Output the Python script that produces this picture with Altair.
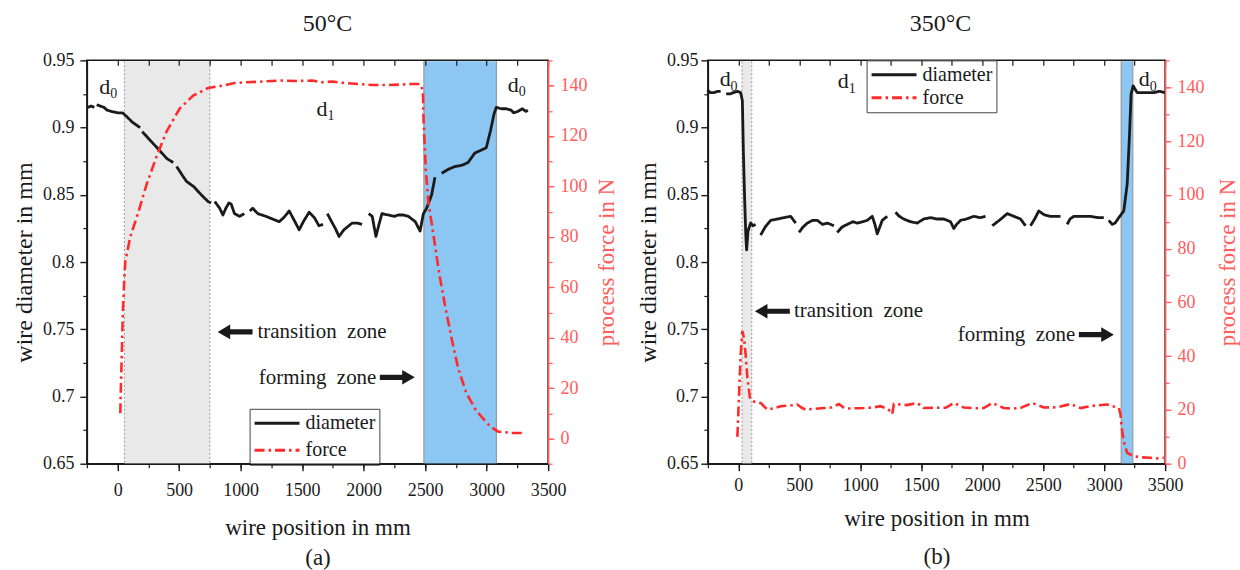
import altair as alt
import pandas as pd

FONT = "Liberation Serif"
INK = "#1a1a1a"
RED_LINE = "#ff2b2b"
RED_AXIS = "#ff5c5c"
ZONE_GRAY = "#e9e9e9"
ZONE_BLUE = "#8cc6f3"
EDGE_GRAY = "#9a9a9a"

SERIES = ["diameter", "force"]
X_DOMAIN = [-250, 3500]
D_DOMAIN = [0.65, 0.95]
X_MAJOR = [0, 500, 1000, 1500, 2000, 2500, 3000, 3500]
X_ALL = list(range(-250, 3501, 250))
D_MAJOR = [0.65, 0.7, 0.75, 0.8, 0.85, 0.9, 0.95]
D_MINOR = [0.675, 0.725, 0.775, 0.825, 0.875, 0.925]
F_MAJOR = [0, 20, 40, 60, 80, 100, 120, 140]

# ---------------- panel (a): 50 °C ----------------
A_DIAM_X = [-245, -215, -190, -170, -140, -110, -86, -50, 0, 40, 76, 120, 183,
            200, 260, 331, 400, 452,
            480, 530, 560, 620, 680, 735, 760,
            790, 830, 856, 880, 905, 924, 950, 991, 1030,
            1075, 1098, 1140, 1206, 1260, 1314, 1350, 1395, 1430, 1476, 1510, 1557, 1600, 1637, 1670,
            1705, 1740, 1770, 1800, 1840, 1880, 1907, 1950, 1987,
            2041, 2070, 2100, 2125, 2149, 2200, 2250, 2283, 2320, 2364, 2420, 2459, 2486, 2512, 2553, 2580,
            2634, 2690, 2741, 2800, 2849, 2880, 2903, 2950, 2997, 3030, 3060, 3078, 3120, 3160, 3199,
            3220, 3253, 3290, 3320, 3335]
A_DIAM_Y = [0.915, 0.916, 0.915, 0.917, 0.916, 0.915, 0.913, 0.912, 0.911, 0.911, 0.908, 0.904, 0.900,
            0.897, 0.891, 0.884, 0.877, 0.874,
            0.871, 0.864, 0.860, 0.856, 0.850, 0.845, 0.844,
            0.845, 0.840, 0.835, 0.840, 0.844, 0.843, 0.836, 0.834, 0.836,
            0.838, 0.840, 0.836, 0.834, 0.832, 0.830, 0.833, 0.838, 0.832, 0.824, 0.830, 0.837, 0.833, 0.827, 0.828,
            0.836, 0.830, 0.825, 0.819, 0.824, 0.827, 0.829, 0.829, 0.828,
            0.836, 0.834, 0.819, 0.828, 0.836, 0.835, 0.834, 0.835, 0.835, 0.834, 0.830, 0.823, 0.836, 0.840, 0.850, 0.863,
            0.866, 0.869, 0.871, 0.872, 0.874, 0.878, 0.881, 0.883, 0.885, 0.897, 0.910, 0.915, 0.914, 0.914, 0.913,
            0.911, 0.912, 0.914, 0.912, 0.913]
A_DIAM_GAPS = [-180, 190, 466, 775, 1052, 1688, 2015, 2607]
A_FORCE_X = [22, 27, 35, 43, 57, 62, 103, 170, 237, 318, 400, 506, 614, 735, 856, 950, 1046, 1150, 1314,
             1450, 1583, 1650, 1745, 1850, 1961, 2080, 2177, 2300, 2392, 2459, 2482, 2487, 2505, 2526, 2567,
             2607, 2620, 2661, 2714, 2768, 2835, 2916, 3024, 3091, 3199, 3293, 3315]
A_FORCE_Y = [10, 21, 35, 51, 66, 70, 80, 90, 101, 112, 122, 131, 136, 139, 140, 141, 141.3, 141.5, 142,
             141.8, 142, 141.3, 141.6, 141, 140.6, 140.2, 140.2, 140.4, 140.6, 140.6, 138, 127, 107, 94, 81,
             68, 64, 53, 40, 28, 18, 11, 5, 2.8, 2.2, 2.2, 2.3]
A_GRAY_ZONE = [55, 750]
A_BLUE_ZONE = [2490, 3080]
A_D_X = [-105, 1661, 3216]
A_D_Y = [0.925, 0.9085, 0.9266]
A_SUB_TEXT = ["0", "1", "0"]
A_SUB_X = [-31, 1734, 3289]
A_SUB_Y = [0.9218, 0.9055, 0.9234]
A_NOTE_TEXT = ["transition\u00a0\u00a0zone", "forming\u00a0\u00a0zone"]
A_NOTE_X = [1137, 2104]
A_NOTE_Y = [0.748, 0.7136]
A_NOTE_ALIGN = ["left", "right"]
A_ARROW_X = [955, 2274]
A_ARROW_Y = [0.748, 0.7143]

# ---------------- panel (b): 350 °C ----------------
B_DIAM_X = [-254, -230, -200, -170, -145,
            -100, -70, -40, -8, 19, 33, 41, 52, 62, 68, 79, 101, 120, 142,
            183, 220, 265, 320, 374, 429, 470,
            497, 530, 566, 610, 648, 690, 730, 784,
            811, 850, 893, 940, 975, 1020, 1057, 1098, 1120, 1139, 1160, 1180, 1221,
            1289, 1320, 1357, 1410, 1467, 1520, 1576, 1630, 1685, 1740, 1767, 1790, 1822, 1870, 1931, 1980, 2027,
            2082, 2140, 2205, 2260, 2314, 2355,
            2396, 2430, 2464, 2510, 2560, 2600, 2642,
            2697, 2720, 2751, 2820, 2888, 2950, 2997,
            3038, 3066, 3090, 3120, 3161, 3189, 3208, 3221, 3238, 3271, 3340, 3407, 3450, 3500]
B_DIAM_Y = [0.928, 0.926, 0.926, 0.927, 0.927,
            0.925, 0.925, 0.926, 0.927, 0.926, 0.920, 0.883, 0.846, 0.818, 0.809, 0.823, 0.829, 0.827, 0.828,
            0.820, 0.826, 0.831, 0.832, 0.833, 0.834, 0.829,
            0.822, 0.826, 0.829, 0.831, 0.831, 0.828, 0.829, 0.827,
            0.822, 0.826, 0.828, 0.830, 0.829, 0.830, 0.831, 0.834, 0.828, 0.821, 0.826, 0.831, 0.834,
            0.837, 0.834, 0.832, 0.830, 0.829, 0.832, 0.833, 0.832, 0.832, 0.830, 0.825, 0.828, 0.831, 0.832, 0.834, 0.833, 0.834,
            0.827, 0.831, 0.836, 0.834, 0.832, 0.827,
            0.827, 0.832, 0.838, 0.835, 0.834, 0.834, 0.834,
            0.828, 0.832, 0.834, 0.834, 0.834, 0.833, 0.833,
            0.831, 0.828, 0.829, 0.833, 0.838, 0.858, 0.895, 0.925, 0.931, 0.926, 0.926, 0.926, 0.927, 0.926]
B_DIAM_GAPS = [-122, 160, 483, 797, 1255, 2054, 2375, 2670, 3017]
B_FORCE_X = [-8, 5, 19, 33, 46, 60, 74, 95, 115, 183, 238, 290, 347, 420, 484, 520, 552, 620, 702, 760,
             825, 860, 893, 960, 1030, 1100, 1166, 1220, 1248, 1262, 1276, 1380, 1467, 1521, 1600, 1700,
             1767, 1849, 1940, 2013, 2082, 2177, 2250, 2314, 2410, 2506, 2620, 2724, 2806, 2900, 3025,
             3100, 3120, 3134, 3148, 3161, 3189, 3243, 3300, 3380, 3430, 3489]
B_FORCE_Y = [10, 24.5, 40.6, 49.3, 46.8, 40.6, 31.9, 24.5, 23.2, 22.6, 20.1, 20.6, 21.4, 21.6, 22, 20.8,
             20.1, 20.4, 20.7, 20.9, 22.2, 21, 20.5, 20.6, 20.7, 20.9, 21.4, 20.5, 19.5, 18.5, 22.2, 21.8,
             22.6, 20.7, 20.8, 20.8, 22.6, 20.9, 20.6, 20.7, 22.6, 20.7, 20.5, 20.7, 22.6, 20.9, 21, 22.2,
             20.7, 21.5, 22, 21, 20.7, 18.3, 12.1, 8.4, 4, 2.8, 2.4, 2.2, 2.0, 2.2]
B_GRAY_ZONE = [30, 110]
B_BLUE_ZONE = [3140, 3235]
B_D_X = [-108, 861, 3328]
B_D_Y = [0.9307, 0.9294, 0.9307]
B_SUB_TEXT = ["0", "1", "0"]
B_SUB_X = [-35, 935, 3402]
B_SUB_Y = [0.9272, 0.926, 0.9272]
B_NOTE_TEXT = ["transition\u00a0\u00a0zone", "forming\u00a0\u00a0zone"]
B_NOTE_X = [456, 2764]
B_NOTE_Y = [0.7634, 0.746]
B_NOTE_ALIGN = ["left", "right"]
B_ARROW_X = [279, 2936]
B_ARROW_Y = [0.7634, 0.746]

LEFT_ARROW = "M-1,0L-0.28,-0.42L-0.28,-0.15L1,-0.15L1,0.15L-0.28,0.15L-0.28,0.42Z"
RIGHT_ARROW = "M1,0L0.28,-0.42L0.28,-0.15L-1,-0.15L-1,0.15L0.28,0.15L0.28,0.42Z"
LEGEND_LINE = "M-2.5,0L2.5,0"
PLOT_H = 404

PANELS = [
    dict(title="50\u00b0C", width=462, f_domain=[-10, 150], f_minor=list(range(-10, 151, 10)),
         diam_x=A_DIAM_X, diam_y=A_DIAM_Y, gaps=A_DIAM_GAPS, force_x=A_FORCE_X, force_y=A_FORCE_Y,
         gray=A_GRAY_ZONE, blue=A_BLUE_ZONE, d_x=A_D_X, d_y=A_D_Y, sub_t=A_SUB_TEXT, sub_x=A_SUB_X,
         sub_y=A_SUB_Y, note_t=A_NOTE_TEXT, note_x=A_NOTE_X, note_y=A_NOTE_Y, note_a=A_NOTE_ALIGN,
         arrow_x=A_ARROW_X, arrow_y=A_ARROW_Y, legend_xy=(163, 349), legend_rowpad=6,
         x_title=["wire position in mm", "(a)"], x_label_pad=11, x_title_pad=17, x_title_lh=30,
         d_label_pad=6, f_title_pad=8, title_dx=10),
    dict(title="350\u00b0C", width=458, f_domain=[0, 150], f_minor=list(range(0, 151, 10)),
         diam_x=B_DIAM_X, diam_y=B_DIAM_Y, gaps=B_DIAM_GAPS, force_x=B_FORCE_X, force_y=B_FORCE_Y,
         gray=B_GRAY_ZONE, blue=B_BLUE_ZONE, d_x=B_D_X, d_y=B_D_Y, sub_t=B_SUB_TEXT, sub_x=B_SUB_X,
         sub_y=B_SUB_Y, note_t=B_NOTE_TEXT, note_x=B_NOTE_X, note_y=B_NOTE_Y, note_a=B_NOTE_ALIGN,
         arrow_x=B_ARROW_X, arrow_y=B_ARROW_Y, legend_xy=(159, 0), legend_rowpad=2,
         x_title=["wire position in mm", "(b)"], x_label_pad=6, x_title_pad=13, x_title_lh=38,
         d_label_pad=3, f_title_pad=12, title_dx=4),
]


def build_panel(p):
    W, H = p["width"], PLOT_H
    xs = alt.Scale(domain=X_DOMAIN, nice=False, zero=False)
    ds = alt.Scale(domain=D_DOMAIN, nice=False, zero=False)
    fsc = alt.Scale(domain=p["f_domain"], nice=False, zero=False)

    diam = pd.DataFrame({"x": p["diam_x"], "d": p["diam_y"]})
    diam["seg"] = [sum(g < v for g in p["gaps"]) for v in p["diam_x"]]
    diam["series"] = "diameter"
    force = pd.DataFrame({"x": p["force_x"], "f": p["force_y"]})
    force["series"] = "force"

    legend = alt.Legend(title=None, orient="none", legendX=p["legend_xy"][0], legendY=p["legend_xy"][1],
                        symbolType=LEGEND_LINE, symbolSize=324, symbolStrokeWidth=3, symbolOffset=13,
                        labelFont=FONT, labelFontSize=20, labelColor=INK, labelOffset=18,
                        padding=4, rowPadding=p["legend_rowpad"], strokeColor="#444", fillColor="white")
    color = alt.Color("series:N", scale=alt.Scale(domain=SERIES, range=[INK, RED_LINE]), legend=legend)
    dash = alt.StrokeDash("series:N", scale=alt.Scale(domain=SERIES, range=[[1, 0], [10, 4, 2.5, 4]]),
                          legend=legend)

    common = dict(grid=False, zindex=1, labelFlush=False, labelOverlap=False)
    x_major = alt.Axis(orient="bottom", values=X_MAJOR, format="d", tickSize=7, tickWidth=1.4, tickColor=INK,
                       domainColor=INK, domainWidth=1.5, labelFont=FONT, labelFontSize=18, labelColor=INK,
                       labelPadding=p["x_label_pad"], title=p["x_title"], titleFont=FONT, titleFontSize=23,
                       titleFontWeight="normal", titleColor=INK, titlePadding=p["x_title_pad"],
                       titleLineHeight=p["x_title_lh"], **common)
    x_minor = alt.Axis(orient="bottom", values=X_ALL, tickSize=4, tickWidth=1.2, tickColor=INK,
                       domain=False, labels=False, title=None, **common)
    x_top = alt.Axis(orient="top", values=X_ALL, tickSize=5, tickWidth=1.2, tickColor=INK, offset=-5,
                     domain=False, labels=False, title=None, **common)
    d_major = alt.Axis(orient="left", values=D_MAJOR, format=".2~f", tickSize=7, tickWidth=1.4,
                       tickColor=INK, domainColor=INK, domainWidth=1.5, labelFont=FONT, labelFontSize=18,
                       labelColor=INK, labelPadding=p["d_label_pad"], title="wire diameter in mm",
                       titleFont=FONT, titleFontSize=24, titleFontWeight="normal", titleColor=INK,
                       titlePadding=6, **common)
    d_minor = alt.Axis(orient="left", values=D_MINOR, tickSize=4, tickWidth=1.2, tickColor=INK,
                       domain=False, labels=False, title=None, **common)
    f_major = alt.Axis(orient="right", values=F_MAJOR, tickSize=6, tickWidth=1.2, tickColor=RED_AXIS,
                       domainColor=RED_AXIS, domainWidth=1.5, labelFont=FONT, labelFontSize=18,
                       labelColor=RED_AXIS, labelPadding=6, title="process force in N", titleFont=FONT,
                       titleFontSize=23, titleFontWeight="normal", titleColor=RED_AXIS, titleAngle=270,
                       titleBaseline="top", titlePadding=p["f_title_pad"], **common)
    f_minor = alt.Axis(orient="right", values=p["f_minor"], tickSize=4, tickWidth=1.2, tickColor=RED_AXIS,
                       domain=False, labels=False, title=None, **common)

    def zone(lims, fill):
        return alt.Chart(pd.DataFrame({"x": [lims[0]], "x2": [lims[1]]})).mark_rect(color=fill).encode(
            x=alt.X("x:Q", scale=xs, axis=None), x2="x2:Q", y=alt.value(1), y2=alt.value(H))

    def edges(lims, dashed):
        kw = dict(strokeDash=[2, 2], strokeWidth=1) if dashed else dict(strokeWidth=1.2)
        return alt.Chart(pd.DataFrame({"x": lims})).mark_rule(color=EDGE_GRAY, **kw).encode(
            x=alt.X("x:Q", scale=xs, axis=None), y=alt.value(1), y2=alt.value(H))

    diam_line = alt.Chart(diam).mark_line(strokeWidth=2.8, strokeJoin="round").encode(
        x=alt.X("x:Q", scale=xs, axis=x_major),
        y=alt.Y("d:Q", scale=ds, axis=d_major),
        detail="seg:N", color=color, strokeDash=dash)
    ghost = alt.Chart(diam).mark_point(opacity=0).encode(
        x=alt.X("x:Q", scale=xs, axis=x_minor), y=alt.Y("d:Q", scale=ds, axis=d_minor))
    ghost_top = alt.Chart(diam).mark_point(opacity=0).encode(
        x=alt.X("x:Q", scale=xs, axis=x_top), y=alt.Y("d:Q", scale=ds, axis=None))

    txt = dict(font=FONT, color=INK, fill=INK, baseline="alphabetic", align="center")
    dlab = alt.Chart(pd.DataFrame({"x": p["d_x"], "y": p["d_y"], "t": ["d"] * len(p["d_x"])})).mark_text(
        fontSize=22, **txt).encode(
        x=alt.X("x:Q", scale=xs, axis=None), y=alt.Y("y:Q", scale=ds, axis=None), text="t:N")
    sublab = alt.Chart(pd.DataFrame({"x": p["sub_x"], "y": p["sub_y"], "t": p["sub_t"]})).mark_text(
        fontSize=14, **txt).encode(
        x=alt.X("x:Q", scale=xs, axis=None), y=alt.Y("y:Q", scale=ds, axis=None), text="t:N")
    notes = []
    for t, x, y, a in zip(p["note_t"], p["note_x"], p["note_y"], p["note_a"]):
        notes.append(alt.Chart(pd.DataFrame({"x": [x], "y": [y], "t": [t]})).mark_text(
            font=FONT, fontSize=21, color=INK, fill=INK, baseline="middle", align=a).encode(
            x=alt.X("x:Q", scale=xs, axis=None), y=alt.Y("y:Q", scale=ds, axis=None), text="t:N"))
    arrows = []
    for x, y, shape in zip(p["arrow_x"], p["arrow_y"], [LEFT_ARROW, RIGHT_ARROW]):
        arrows.append(alt.Chart(pd.DataFrame({"x": [x], "y": [y]})).mark_point(
            shape=shape, filled=True, opacity=1, color=INK, size=1225, strokeWidth=0).encode(
            x=alt.X("x:Q", scale=xs, axis=None), y=alt.Y("y:Q", scale=ds, axis=None)))

    base = alt.layer(zone(p["gray"], ZONE_GRAY), zone(p["blue"], ZONE_BLUE),
                     edges(p["gray"], True), edges(p["blue"], False),
                     diam_line, ghost, ghost_top, dlab, sublab, *notes, *arrows
                     ).resolve_axis(x="independent", y="independent")

    force_line = alt.Chart(force).mark_line(strokeWidth=2.6).encode(
        x=alt.X("x:Q", scale=xs, axis=None),
        y=alt.Y("f:Q", scale=fsc, axis=f_major),
        color=color, strokeDash=dash)
    force_ghost = alt.Chart(force).mark_point(opacity=0).encode(
        x=alt.X("x:Q", scale=xs, axis=None), y=alt.Y("f:Q", scale=fsc, axis=f_minor))
    top = alt.layer(force_line, force_ghost).resolve_axis(x="independent", y="independent")

    return alt.layer(base, top).resolve_scale(y="independent").resolve_axis(
        x="independent", y="independent").properties(
        width=W, height=H,
        title=alt.TitleParams(p["title"], font=FONT, fontSize=24, fontWeight="normal", color=INK,
                              offset=15, dx=p["title_dx"], anchor="middle"))


chart = alt.hconcat(*[build_panel(p) for p in PANELS], spacing=16).resolve_scale(
    color="independent", strokeDash="independent").properties(
    padding={"left": 11, "top": 11, "right": 0, "bottom": 0}).configure(
    font=FONT).configure_axis(labelFont=FONT, titleFont=FONT).configure_legend(
    labelFont=FONT).configure_title(font=FONT).configure_text(font=FONT).configure_view(
    stroke=INK, strokeWidth=1.5)

chart.save("out.html", embed_options={"renderer": "svg", "actions": False})
